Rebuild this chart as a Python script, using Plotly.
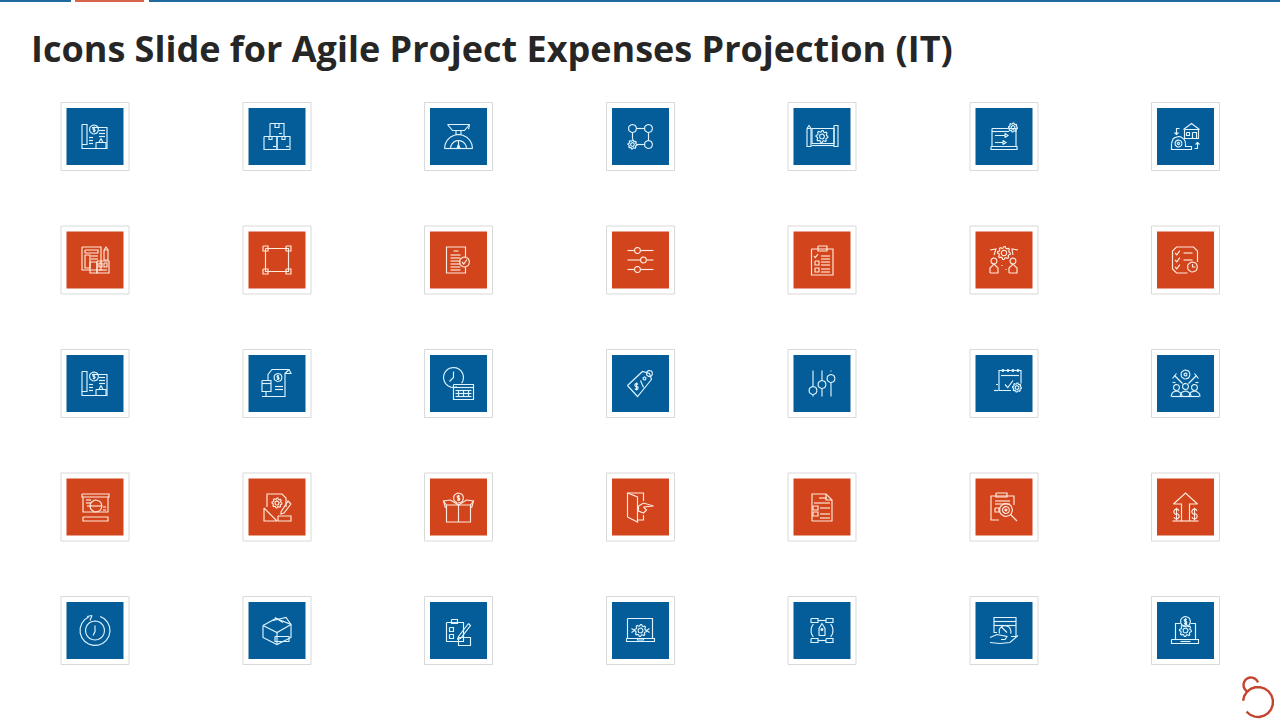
import numpy as np
import plotly.graph_objects as go

TITLE = "Icons Slide for Agile Project Expenses Projection (IT)"
COLUMN_CENTERS = [95, 277, 458.5, 640.5, 822, 1004, 1185.5]
ROW_CENTERS = [136.5, 260, 383.5, 507, 630.5]
ROW_FILLS = ["#045C98", "#D1441C", "#045C98", "#D1441C", "#045C98"]
ROW_INKS = ["#DDF4FF", "#FFEADD", "#DDF4FF", "#FFEADD", "#DDF4FF"]
ICON_NAMES = [
    ["plan", "boxes", "scale", "nodes", "blueprint", "laptop_flow", "house"],
    ["office", "frame", "doc_check", "sliders_h", "clipboard", "team_gear", "tasks_clock"],
    ["plan", "receipt", "clock_cal", "tag", "sliders_v", "calendar", "cheer"],
    ["board", "design", "coin_box", "door", "doc_list", "clip_target", "arrow_money"],
    ["refresh", "carton", "clip_pencil", "laptop_gear", "rocket", "hand", "laptop_coin"],
]
TOP_RULES = [(0, 71, "#1F6A9E"), (75, 144, "#D8644A"), (149, 1280, "#1F6A9E")]


def line(*pts):
    return [list(pts)]


def rect(x0, y0, x1, y1):
    return line((x0, y0), (x1, y0), (x1, y1), (x0, y1), (x0, y0))


def arc(cx, cy, r, a0=0, a1=360):
    n = max(8, int(abs(a1 - a0) / 18))
    t = np.radians(np.linspace(a0, a1, n + 1))
    return [[(cx + r * np.cos(v), cy + r * np.sin(v)) for v in t]]


def dollar(cx, cy, s=2.0):
    return (arc(cx, cy - s * 0.5, s * 0.6, -20, -270)
            + arc(cx, cy + s * 0.5, s * 0.6, -90, 160)
            + line((cx, cy - s * 1.4), (cx, cy + s * 1.4)))


def gear(cx, cy, r):
    pts = []
    for k in range(33):
        a = np.radians(k * 360 / 32)
        rr = r if (k % 4) < 2 else r * 0.78
        pts.append((cx + rr * np.cos(a), cy + rr * np.sin(a)))
    return [pts] + arc(cx, cy, r * 0.42)


def hbars(x0, x1, *ys):
    out = []
    for y in ys:
        out += line((x0, y), (x1, y))
    return out


def check(x, y, s=2.0):
    return line((x - s, y), (x - s * 0.3, y + s * 0.8), (x + s, y - s))


ICONS = {
    "plan": rect(-13, -12, -8, 8) + line((-13, 8), (-13, 12), (12, 12), (12, -9), (-3, -9))
    + arc(-1, -7, 4.5) + dollar(-1, -7, 1.9) + hbars(4, 10, -6, -3, 0) + hbars(-6, -2, 1, 4, 7)
    + rect(1, 6, 11, 12) + line((4, 6), (6, 2), (8, 6)),
    "boxes": rect(-7, -13, 7, 0) + rect(-13, 0, 0, 13) + rect(0, 0, 13, 13)
    + rect(-2, -13, 2, -9) + rect(-8, 0, -5, 3) + rect(5, 0, 8, 3)
    + hbars(2, 5, -3) + hbars(-4, -1, 10) + hbars(9, 12, 10),
    "scale": arc(0, -12, 11, 0, 25) + line((-11, -12), (11, -12), (6, -6), (-6, -6), (-11, -12)) + rect(-2.5, -6, 2.5, -2)
    + arc(0, 12, 14, 180, 360) + line((-14, 12), (14, 12)) + arc(0, 12, 8, 180, 360)
    + line((0, 4), (0, 12)) + line((-1.5, 12), (0, 8), (1.5, 12)),
    "nodes": arc(-8, -8, 4) + arc(8, -8, 4) + arc(8, 8, 4) + gear(-8, 8, 4.5)
    + hbars(-4, 4, -8, 8) + line((-8, -4), (-8, 3)) + line((8, -4), (8, 4)),
    "blueprint": rect(-15, -8, -11, 10) + line((-15, -8), (-13, -11), (-11, -8))
    + rect(12, -11, 16, 10) + rect(-10, -8, 12, 7) + line((-10, 9), (12, 9)) + gear(0, 0, 6),
    "laptop_flow": rect(-12, -8, 12, 10) + rect(-13, 10, 13, 13) + gear(9, -9, 4.5) + hbars(-12, 5, -5)
    + line((-9, -1), (1, -1), (1, -3), (4, -1), (1, 1), (1, -1))
    + line((-9, 6), (-1, 6), (-1, 4), (2, 6), (-1, 8), (-1, 6)),
    "house": line((-2, -7), (6, -13), (14, -7)) + rect(-1, -7, 13, 2) + rect(1, -4, 4, -1) + rect(7, -4, 11, 2)
    + arc(-7, 7, 7, 180, 360) + line((-14, 7), (-14, 13), (6, 13), (6, 10), (0, 10), (0, 7)) + arc(-7, 7, 3.5) + arc(-7, 7, 1.2)
    + line((-6, -8), (-9, -8), (-9, -2)) + line((-11, -4), (-9, -2), (-7, -4))
    + line((9, 12), (12, 12), (12, 6)) + line((10, 8), (12, 6), (14, 8)),
    "office": rect(-13, -13, 6, 10) + rect(-10, -10, 3, -7) + rect(-10, -5, -5, 8) + hbars(-4, 3, -4, -1)
    + rect(2, 1, 14, 13) + rect(4, 3, 7, 7) + rect(9, 3, 12, 7) + rect(-5, 2, 2, 13) + rect(9, -10, 13, 0)
    + line((9, -10), (11, -13), (13, -10)) + hbars(4, 12, 10),
    "frame": rect(-11.5, -11.5, 11.5, 11.5) + rect(-14, -14, -9, -9) + rect(9, -14, 14, -9)
    + rect(-14, 9, -9, 14) + rect(9, 9, 14, 14),
    "doc_check": line((7, -3), (7, -13), (-12, -13), (-12, 13), (7, 13), (7, 7)) + hbars(-5, 0, -9)
    + hbars(-8, 2, -5, -2, 1, 4, 7, 10) + arc(6, 2, 5) + check(6, 2, 2.5),
    "sliders_h": hbars(-13, -6, -9.5) + hbars(0, 13, -9.5) + hbars(-13, 0, 0) + hbars(6, 13, 0)
    + hbars(-13, -6, 9.5) + hbars(0, 13, 9.5) + arc(-3, -9.5, 3) + arc(3, 0, 3) + arc(-3, 9.5, 3),
    "clipboard": rect(-10.5, -11, 11, 15) + rect(-4, -14, 5, -9) + check(-6, -4, 2) + rect(-7, 1, -3, 5)
    + rect(-7, 8, -3, 12) + hbars(-1, 8, -4, -1, 2, 5, 9, 12),
    "team_gear": gear(0, -7, 6.5) + arc(-10, 1, 3) + arc(9, 1, 3)
    + line((-14, 13), (-14, 8), (-10, 4), (-6, 8), (-6, 13), (-14, 13))
    + line((5, 13), (5, 8), (9, 4), (13, 8), (13, 13), (5, 13))
    + line((-14, -10), (-8, -11), (-10, -5)) + line((14, -10), (8, -11), (9, -5))
    + line((-2, 5), (-2, 6)) + line((2, 9), (2, 10)),
    "tasks_clock": line((2, 13), (-9, 13), (-13, 9), (-13, -9), (-9, -13), (8, -13), (12, -9), (12, 2))
    + check(-8, -7, 2.4) + check(-8, 0, 2.4) + check(-8, 7, 2.4) + hbars(-2, 7, -7, 0) + arc(7, 7, 5)
    + line((7, 4), (7, 7), (10, 7)),
    "receipt": line((-9, -3), (-9, -9), (-5, -14), (12, -14), (14, -10), (8, -10), (8, 13), (-15, 13)) + line((12, -14), (8, -10))
    + arc(1, -6, 4) + dollar(1, -6, 1.8)
    + rect(-15, -3, -6, 8) + hbars(-15, -6, 0) + line((-11, 8), (-11, 13)) + hbars(-2, 6, 3, 6),
    "clock_cal": arc(-5, -6, 10, 70, 395) + line((-5, -12), (-5, -6), (-9, -2)) + rect(-5, 1, 15, 16) + hbars(-5, 15, 4)
    + hbars(-3, 13, 7, 10, 13) + line((0, 7), (0, 13)) + line((5, 7), (5, 13)) + line((10, 7), (10, 13)),
    "tag": line((-13, 2), (-3, 13), (11, -4), (9, -10), (2, -12), (-13, 2)) + arc(4, -5, 1.5) + arc(9, -10, 3)
    + dollar(-4, 3, 2.8) + line((0, -3), (3, 4)),
    "sliders_v": line((-9, -13), (-9, 3)) + line((-9, 11), (-9, 13)) + line((0, -13), (0, -3)) + line((0, 5), (0, 13))
    + line((9, -13), (9, -12)) + line((9, -1), (9, 13)) + arc(-9, 7, 4) + arc(0, 1, 4) + arc(9, -5, 4),
    "calendar": line((7, 7), (-5, 7), (-5, -13), (17, -13), (17, 0)) + hbars(-3, 15, -8)
    + arc(-1, -13, 1) + arc(4, -13, 1) + arc(9, -13, 1) + arc(14, -13, 1)
    + check(5, 1, 4) + gear(13, 4, 4.5) + hbars(-10, -6, 7) + hbars(-8, -6, 1),
    "cheer": arc(0, -9, 4.5) + arc(0, -9, 1.5) + arc(-9, 4, 3) + arc(0, 3, 3) + arc(9, 4, 3)
    + arc(-9, 13, 5.5, 180, 360) + arc(0, 13, 5.5, 180, 360) + arc(9, 13, 5.5, 180, 360) + hbars(-14, 14, 13)
    + line((-11, -8), (-3, 0)) + line((11, -8), (3, 0)) + line((-13, -5), (-9, -10)) + line((13, -5), (9, -10)) + hbars(-13, -10, -1) + hbars(10, 13, -1),
    "board": rect(-13, -13, 14, -10) + line((-12, -10), (-12, 5), (13, 5), (13, -10)) + arc(1, -1, 6)
    + line((-8, -1), (7, -1)) + hbars(-9, -4, -7, -4) + hbars(8, 11, 0, 3) + rect(-12, 10, 13, 14),
    "design": line((-10, 0), (-10, -13), (5, -13), (9, -9), (9, 0)) + gear(0, -4, 5)
    + line((-13, 1), (-13, 14), (0, 14), (-13, 1)) + rect(1, 9, 14, 14) + line((14, -3), (11, -6), (4, 5), (4, 7), (7, 6), (14, -3)),
    "coin_box": arc(0, -9, 5) + dollar(0, -9, 2.2) + rect(-12, -2, 12, 15) + line((0, -2), (0, 15))
    + line((-12, -2), (-15, -6), (-8, -7), (0, -2), (8, -7), (15, -6), (12, -2)) + line((-15, -6), (-13, 1)) + line((15, -6), (13, 1)),
    "door": line((-13, 10), (-13, -14), (3, -14), (3, -6)) + line((-13, -14), (-3, -10), (-3, 15), (-13, 10))
    + line((3, 8), (3, 13), (-3, 13)) + line((-2, -1), (3, -4), (13, -1), (3, 0), (6, 3), (3, 6), (-2, 4), (-2, -1)),
    "doc_list": line((-10, 14), (-10, -13), (4, -13), (10, -7), (10, 14), (-10, 14)) + line((4, -13), (4, -7), (10, -7))
    + hbars(-3, 5, -9) + hbars(-8, 8, -4) + rect(-9, -1, -4, 3) + rect(-9, 5, -4, 9) + hbars(-2, 8, 1, 7, 11),
    "clip_target": line((-5, 13), (-13, 13), (-13, -11), (10, -11), (10, -2)) + rect(-8, -14, 3, -10) + hbars(-9, 6, -6, -3)
    + rect(-9, 1, -5, 5) + arc(2, 3, 6.5) + arc(2, 3, 3.5) + arc(2, 3, 1) + line((7, 8), (13, 14)),
    "arrow_money": line((-4, 14), (-4, -3), (-12, -3), (0, -14), (12, -3), (4, -3), (4, 14)) + hbars(-13, 13, 14)
    + dollar(-9, 7, 4.5) + dollar(9, 7, 4.5),
    "refresh": arc(0, 0, 15, -70, 245) + arc(0, 0, 9.5) + line((-8, -14), (-3, -15), (-5, -10)) + line((0, -5), (0, 1), (-2, 5)),
    "carton": line((-14, -5), (-1, -12), (14, -6), (14, 7), (0, 14), (-14, 7), (-14, -5)) + line((-14, -5), (0, 2), (14, -6))
    + line((0, 2), (0, 14)) + line((-4, -10), (9, -13), (14, -6)) + line((-2, -13), (6, -8)) + rect(-2, 6, 12, 11),
    "clip_pencil": rect(-12, -8, 5, 11) + rect(-7, -11, -1, -7) + rect(-9, -3, -5, 1) + rect(-9, 4, -5, 8)
    + line((10, -7), (0, 6), (-1, 9), (2, 8), (12, -5), (10, -7)) + rect(0, 7, 12, 15),
    "laptop_gear": rect(-13, -12, 12, 8) + rect(-14, 8, 14, 11) + gear(0, 0, 6) + line((-9, -2), (-6, 0), (-9, 2))
    + line((9, -2), (6, 0), (9, 2)) + rect(-3, 8, 3, 9.5),
    "rocket": rect(-11, -12, -4, -8) + rect(4, -12, 11, -8) + rect(-11, 8, -4, 12) + rect(4, 8, 11, 12) + hbars(-4, 4, -10, 10)
    + arc(-1, 0, 10, 140, 220) + arc(1, 0, 10, -40, 40) + line((-3, 5), (-3, -2), (0, -7), (3, -2), (3, 5), (-3, 5)) + arc(0, -1, 1),
    "hand": line((-7, 2), (-10, 2), (-10, -13), (12, -13), (12, 6), (7, 6)) + hbars(-10, 12, -9, -5) + line((-3, -4), (3, 2))
    + line((-14, 7), (-7, 4), (3, 6), (1, 9), (-3, 9)) + line((-14, 12), (-4, 13), (6, 12), (14, 5)) + arc(1, 1, 6, 160, 380),
    "laptop_coin": line((-5, -7), (-10, -7), (-10, 9), (10, 9), (10, -7), (5, -7)) + rect(-14, 9, 13, 13)
    + arc(0, -9, 5) + dollar(0, -9, 2.2) + gear(0, 0, 6) + hbars(-5, 5, 11),
}


def glyph_xy(name, cx, cy):
    xs, ys = [], []
    for poly in ICONS[name]:
        for px, py in poly:
            xs.append(float(cx + px))
            ys.append(float(cy + py))
        xs.append(None)
        ys.append(None)
    return xs, ys


fig = go.Figure()

# top rule
for x0, x1, colour in TOP_RULES:
    fig.add_trace(go.Scatter(x=[x0, x1], y=[1, 1], mode="lines", line=dict(color=colour, width=2), hoverinfo="skip"))

# tiles
for r, cy in enumerate(ROW_CENTERS):
    xs = COLUMN_CENTERS
    ys = [cy] * len(xs)
    fig.add_trace(go.Scatter(x=xs, y=ys, mode="markers", hoverinfo="skip",
                             marker=dict(symbol="square", size=68, color="#FFFFFF",
                                         line=dict(color="#D9D9D9", width=1))))
    fig.add_trace(go.Scatter(x=xs, y=ys, mode="markers", hoverinfo="skip",
                             marker=dict(symbol="square", size=57, color=ROW_FILLS[r], line=dict(width=0))))
    gx, gy = [], []
    for c, cx in enumerate(COLUMN_CENTERS):
        a, b = glyph_xy(ICON_NAMES[r][c], cx, cy)
        gx += a
        gy += b
    fig.add_trace(go.Scatter(x=gx, y=gy, mode="lines", hoverinfo="skip", connectgaps=False,
                             line=dict(color=ROW_INKS[r], width=1.15)))

# corner logo
lx, ly = [], []
for poly in arc(1258, 702, 15, 140, -175) + arc(1251, 685, 7.5, -20, -235):
    for px, py in poly:
        lx.append(float(px))
        ly.append(float(py))
    lx.append(None)
    ly.append(None)
fig.add_trace(go.Scatter(x=lx, y=ly, mode="lines", hoverinfo="skip", line=dict(color="#C2452D", width=2.4)))

fig.update_layout(
    width=1280, height=720, margin=dict(l=0, r=0, t=0, b=0), showlegend=False,
    paper_bgcolor="#FFFFFF", plot_bgcolor="#FFFFFF",
    xaxis=dict(range=[0, 1280], visible=False, fixedrange=True),
    yaxis=dict(range=[720, 0], visible=False, fixedrange=True),
    annotations=[dict(text=f"<b>{TITLE}</b>", x=29, y=48, xref="x", yref="y", xanchor="left", yanchor="middle",
                      showarrow=False, font=dict(family="Open Sans", size=36, color="#262626"))],
)

fig.write_html("out.html", config={"displayModeBar": False},
               post_script="document.body.style.margin='0';document.body.style.overflow='hidden';")
